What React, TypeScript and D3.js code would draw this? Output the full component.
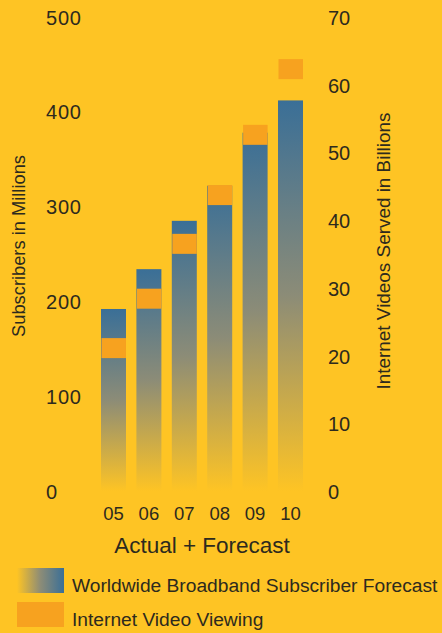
import React from "react";
import * as d3 from "d3";

// Years on the x axis
const years = ["05", "06", "07", "08", "09", "10"];
// Worldwide broadband subscribers (millions), left axis
const subscribers = [192, 234, 285, 322, 378, 412];
// Internet videos served (billions), right axis
const videos = [21.1, 28.4, 36.5, 43.7, 52.6, 62.3];
// Axis tick labels
const leftTicks = [0, 100, 200, 300, 400, 500];
const rightTicks = [0, 10, 20, 30, 40, 50, 60, 70];

const W = 442;
const H = 633;
const BG = "#FEC424";
const BLUE = "#3A6F97";
const ORANGE = "#F7A21F";
const TEXT = "#2d2a1e";
const FONT = "'Liberation Sans', Arial, Helvetica, sans-serif";

export default function App() {
  const x = d3.scaleBand<string>().domain(years).range([101, 303]).paddingInner(0.294).paddingOuter(0);
  const yL = d3.scaleLinear().domain([0, 500]).range([491, 17]);
  const yR = d3.scaleLinear().domain([0, 70]).range([491, 17]);
  const bw = x.bandwidth();
  const markH = 20;

  return (
    <svg
      width={W}
      height={H}
      style={{ position: "absolute", left: 0, top: 0, display: "block", background: BG }}
      fontFamily={FONT}
    >
      <defs>
        <linearGradient id="barGrad" x1="0" y1="0" x2="0" y2="1">
          <stop offset="0" stopColor={BLUE} />
          <stop offset="0.5" stopColor="#8C8C77" />
          <stop offset="1" stopColor={BG} />
        </linearGradient>
        <linearGradient id="legendGrad" x1="0" y1="0" x2="1" y2="0">
          <stop offset="0" stopColor={BG} />
          <stop offset="0.5" stopColor="#8C8C77" />
          <stop offset="1" stopColor={BLUE} />
        </linearGradient>
      </defs>
      <rect x={0} y={0} width={W} height={H} fill={BG} />

      {/* subscriber bars */}
      {years.map((yr, i) => (
        <rect
          key={"b" + yr}
          x={x(yr)}
          y={yL(subscribers[i])}
          width={bw}
          height={yL(0) - yL(subscribers[i])}
          fill="url(#barGrad)"
        />
      ))}

      {/* video viewing markers */}
      {years.map((yr, i) => (
        <rect
          key={"m" + yr}
          x={(x(yr) as number) + 0.5}
          y={yR(videos[i]) - markH / 2}
          width={bw - 0.5}
          height={markH}
          fill={ORANGE}
        />
      ))}

      {/* left axis labels */}
      {leftTicks.map((t) => (
        <text key={"l" + t} x={46} y={yL(t) + 7.5} fontSize={20} letterSpacing={0.8} fill={TEXT}>
          {t}
        </text>
      ))}
      {/* right axis labels */}
      {rightTicks.map((t) => (
        <text key={"r" + t} x={328} y={yR(t) + 8} fontSize={20} fill={TEXT}>
          {t}
        </text>
      ))}

      {/* x axis labels */}
      {years.map((yr) => (
        <text
          key={"x" + yr}
          x={(x(yr) as number) + bw / 2}
          y={520}
          fontSize={18.5}
          textAnchor="middle"
          fill={TEXT}
        >
          {yr}
        </text>
      ))}

      <text x={202} y={553} fontSize={22.5} textAnchor="middle" fill={TEXT}>
        Actual + Forecast
      </text>

      <text
        transform="translate(25,246) rotate(-90)"
        fontSize={18.3}
        textAnchor="middle"
        fill={TEXT}
      >
        Subscribers in Millions
      </text>
      <text
        transform="translate(390,251) rotate(-90)"
        fontSize={18.9}
        textAnchor="middle"
        fill={TEXT}
      >
        Internet Videos Served in Billions
      </text>

      {/* legend */}
      <rect x={17} y={568} width={47} height={25} fill="url(#legendGrad)" />
      <text x={72} y={592} fontSize={19.2} fill={TEXT}>
        Worldwide Broadband Subscriber Forecast
      </text>
      <rect x={17} y={602} width={47} height={25} fill={ORANGE} />
      <text x={72} y={626} fontSize={19.2} fill={TEXT}>
        Internet Video Viewing
      </text>
    </svg>
  );
}
